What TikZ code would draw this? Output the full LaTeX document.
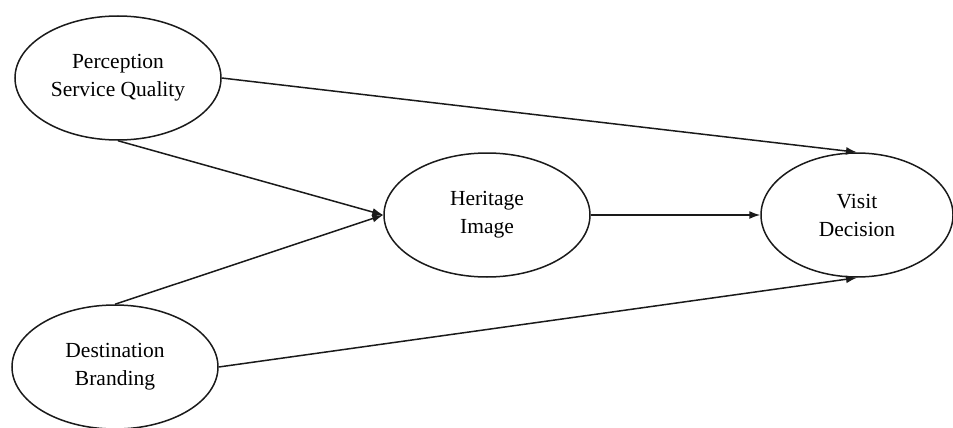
\documentclass[tikz,border=0pt]{standalone}
\usepackage{fontspec}
\setmainfont{Liberation Serif}
\usepackage{tikz}
\usetikzlibrary{arrows.meta,positioning,shapes.geometric}
\definecolor{pathink}{HTML}{1A1A1A}
\tikzset{
  construct/.style={ellipse, draw=pathink, line width=1.5pt, fill=white, align=center, inner sep=0pt, minimum width=206pt, minimum height=124pt, font=\fontsize{21.5}{28}\selectfont},
  path arrow/.style={-{Latex[length=11pt,width=8pt]}, line width=1.5pt, draw=pathink}
}

\begin{document}
\begin{tikzpicture}[x=1pt, y=-1pt]
  \useasboundingbox (0,0) rectangle (953,428);
  \node[construct] (service) at (118,78) {Perception\\Service Quality};
  \node[construct] (branding) at (115,367) {Destination\\Branding};
  \node[construct] (heritage) at (487,215) {Heritage\\Image};
  \node[construct, minimum width=192pt] (visit) at (857,215) {Visit\\Decision};

  \draw[path arrow] (service.east) -- (visit.north);
  \draw[path arrow] (service.south) -- (heritage.west);
  \draw[path arrow] (branding.north) -- (heritage.west);
  \draw[path arrow] (heritage.east) -- (visit.west);
  \draw[path arrow] (branding.east) -- (visit.south);
\end{tikzpicture}
\end{document}
